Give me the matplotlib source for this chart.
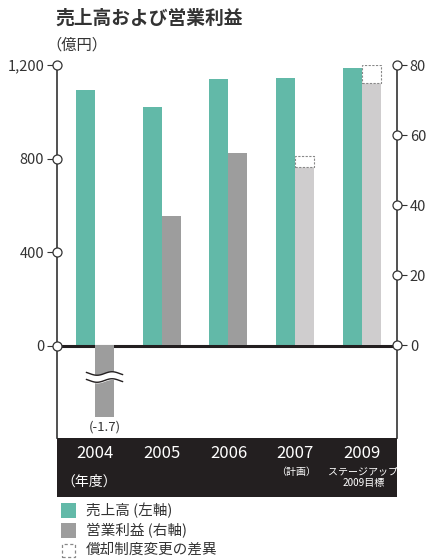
import numpy as np
import matplotlib
matplotlib.use('Agg')
import matplotlib.pyplot as plt
from matplotlib.patches import Rectangle

plt.rcParams['font.family'] = ['Noto Sans CJK JP', 'DejaVu Sans']

# data (億円)
years = ['2004', '2005', '2006', '2007', '2009']
year_notes = ['', '', '', '（計画）', 'ステージアップ\n2009目標']
sales = [1093, 1020, 1140, 1144, 1188]
profit = [-1.7, 37, 55, 51, 75]
profit_diff = [0, 0, 0, 3, 5]   # 償却制度変更の差異
is_plan = [False, False, False, True, True]

left_ticks = [0, 400, 800, 1200]
left_labels = ['0', '400', '800', '1,200']
right_ticks = [0, 20, 40, 60, 80]

TEAL = '#62b9a8'
GRAY = '#9d9d9d'
LIGHT = '#cfcdce'
DARK = '#231f20'
TXT = '#333333'

W, H = 427, 559
fig = plt.figure(figsize=(W / 100, H / 100), dpi=100)
fig.patch.set_facecolor('white')

x0, x1, y0, y1 = 56.7, 397.3, 65, 438
ax = fig.add_axes([x0 / W, 1 - y1 / H, (x1 - x0) / W, (y1 - y0) / H])
ax2 = ax.twinx()

x = np.arange(len(years))
w = 0.285
xlim = (-0.574, 4.53)
ax.set_xlim(xlim)
ax.set_ylim(-394, 1200)
ax2.set_ylim(-26.4, 80)

# sales bars (left axis)
ax.bar(x - w / 2, sales, w, color=TEAL, zorder=2)

# operating profit (right axis); negative 2004 drawn with axis break
break_depth = -20.4
shown = [v if v >= 0 else break_depth for v in profit]
colors = [LIGHT if p else GRAY for p in is_plan]
ax2.bar(x + w / 2, shown, w, color=colors, zorder=2)
for xi, base, d in zip(x, profit, profit_diff):
    if d > 0:
        ax2.bar(xi + w / 2, d, w, bottom=base, facecolor='white', edgecolor='#888888',
                linestyle=(0, (2, 1.3)), linewidth=0.8, zorder=2)

# break mark on the 2004 bar
for xi, v in zip(x, profit):
    if v < 0:
        t = np.linspace(-1, 1, 60)
        xs = xi + w / 2 + t * 0.27
        wave = 0.5 * np.sin(np.pi * t * 1.2)
        ax2.fill_between(xs, -9.0 + wave - 1.0, -9.0 + wave + 1.0, color='white', zorder=4)
        ax2.plot(xs, -9.0 + wave - 1.0, color=DARK, lw=1.0, zorder=5)
        ax2.plot(xs, -9.0 + wave + 1.0, color=DARK, lw=1.0, zorder=5)
        ax2.text(xi + w / 2, -23.2, f'({v})', ha='center', va='center', fontsize=9.5, color=TXT)

ax.axhline(0, color=DARK, lw=2.2, zorder=3)

# axes styling
for a in (ax, ax2):
    for s in ('top', 'bottom'):
        a.spines[s].set_visible(False)
ax.spines['right'].set_visible(False)
ax2.spines['left'].set_visible(False)
ax.spines['left'].set_color(TXT)
ax.spines['left'].set_linewidth(1.2)
ax2.spines['right'].set_color(TXT)
ax2.spines['right'].set_linewidth(1.2)
ax.set_xticks([])

ax.set_yticks(left_ticks)
ax.set_yticklabels(left_labels)
ax2.set_yticks(right_ticks)
ax2.set_yticklabels([str(v) for v in right_ticks])
ax.tick_params(axis='y', length=7, width=0.8, color=TXT, pad=2, labelsize=10.5, labelcolor=TXT)
ax2.tick_params(axis='y', length=7, width=0.8, color=TXT, pad=2, labelsize=10.5, labelcolor=TXT)

ax.plot([xlim[0]] * len(left_ticks), left_ticks, 'o', ms=6.5, mfc='white', mec=TXT,
        mew=0.9, clip_on=False, zorder=6)
ax2.plot([xlim[1]] * len(right_ticks), right_ticks, 'o', ms=6.5, mfc='white', mec=TXT,
         mew=0.9, clip_on=False, zorder=6)

# dark year band
band = fig.add_axes([x0 / W, 1 - 497 / H, (x1 - x0) / W, (497 - y1) / H])
band.set_facecolor(DARK)
band.set_xlim(xlim)
band.set_ylim(0, 1)
band.set_xticks([])
band.set_yticks([])
for s in band.spines.values():
    s.set_visible(False)
for xi, yr, note in zip(x, years, year_notes):
    band.text(xi, 0.74, yr, ha='center', va='center', color='white', fontsize=12)
    if note:
        lines = note.split('\n')
        for k, ln in enumerate(lines):
            band.text(xi + 0.02, 0.43 - k * 0.2, ln,
                      ha='center', va='center', color='white', fontsize=7.2)
band.text(-0.09, 0.26, '（年度）', ha='center', va='center', color='white', fontsize=10)

# titles
fig.text(55 / W, 1 - 18 / H, '売上高および営業利益', fontsize=13.5, fontweight='bold',
         color=TXT, va='center', ha='left')
fig.text(46 / W, 1 - 45 / H, '（億円）', fontsize=11, color=TXT, va='center', ha='left')

# legend
legend_items = [('売上高 (左軸)', TEAL, None), ('営業利益 (右軸)', GRAY, None),
                ('償却制度変更の差異', 'white', '#888888')]
for k, (lab, fc, ec) in enumerate(legend_items):
    cy = 510.7 + k * 19.7
    if ec is None:
        r = Rectangle((61 / W, 1 - (cy + 7.5) / H), 15 / W, 15 / H, transform=fig.transFigure,
                      facecolor=fc, edgecolor='none')
    else:
        r = Rectangle((62 / W, 1 - (cy + 6.5) / H), 13 / W, 13 / H, transform=fig.transFigure,
                      facecolor=fc, edgecolor=ec, linestyle=(0, (2.5, 2)), linewidth=0.9)
    fig.add_artist(r)
    fig.text(86 / W, 1 - cy / H, lab, fontsize=10.5, color=TXT, va='center', ha='left')

fig.savefig('out.png', dpi=100)
